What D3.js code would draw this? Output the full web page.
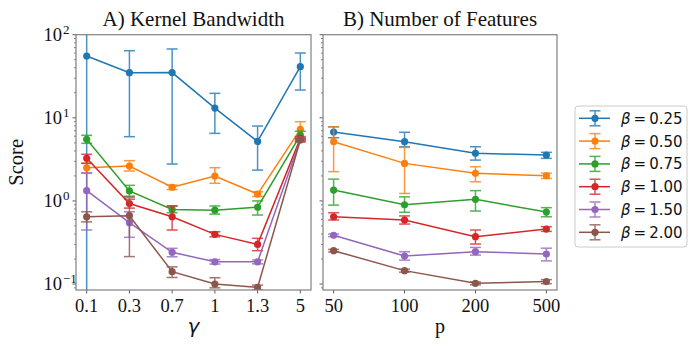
<!DOCTYPE html>
<html>
<head>
<meta charset="utf-8">
<script src="https://cdn.jsdelivr.net/npm/d3@7"></script>
<style>
  body { margin: 0; background: #fff; }
  svg { display: block; }
</style>
</head>
<body>
<div id="chart"></div>
<script>
// series labels and colours
const betas = ["0.25", "0.50", "0.75", "1.00", "1.50", "2.00"];
const colors = ["#1f77b4", "#ff7f0e", "#2ca02c", "#d62728", "#9467bd", "#8c564b"];

// panel A: kernel bandwidth
const gammas = ["0.1", "0.3", "0.7", "1", "1.3", "5"];
const gammaMean = [
    [55.4, 34.9, 35.0, 13.1, 5.2, 41.2],
    [2.5, 2.63, 1.46, 1.99, 1.21, 7.27],
    [5.51, 1.32, 0.79, 0.775, 0.84, 6.2],
    [3.26, 0.93, 0.645, 0.396, 0.30, 5.66],
    [1.33, 0.547, 0.241, 0.185, 0.185, 5.45],
    [0.645, 0.664, 0.141, 0.1, 0.091, 5.4]
];
const gammaLow = [
    [0, 5.93, 2.78, 6.5, 2.35, 21.6],
    [2.15, 2.29, 1.37, 1.63, 1.13, 5.6],
    [4.93, 1.14, 0.72, 0.695, 0.677, 5.5],
    [2.83, 0.82, 0.447, 0.37, 0.252, 5.35],
    [0.447, 0.365, 0.213, 0.174, 0.175, 5.15],
    [0.56, 0.214, 0.12, 0.09, 0.085, 5.15]
];
const gammaHigh = [
    [120, 64.2, 67.3, 19.7, 7.96, 60.2],
    [2.85, 3.05, 1.55, 2.51, 1.29, 8.98],
    [6.16, 1.54, 0.87, 0.87, 1.0, 6.9],
    [3.64, 1.05, 0.87, 0.426, 0.355, 5.95],
    [2.18, 0.74, 0.269, 0.197, 0.195, 5.75],
    [0.74, 1.11, 0.161, 0.119, 0.097, 5.65]
];

// panel B: number of features
const features = ["50", "100", "200", "500"];
const featMean = [
    [6.75, 5.16, 3.74, 3.57],
    [5.16, 2.83, 2.15, 2.01],
    [1.35, 0.90, 1.045, 0.735],
    [0.645, 0.59, 0.371, 0.459],
    [0.386, 0.217, 0.245, 0.23],
    [0.252, 0.145, 0.102, 0.107]
];
const featLow = [
    [5.76, 4.49, 3.1, 3.25],
    [2.25, 1.23, 1.7, 1.86],
    [0.89, 0.73, 0.756, 0.645],
    [0.59, 0.527, 0.303, 0.43],
    [0.372, 0.194, 0.223, 0.19],
    [0.243, 0.139, 0.098, 0.101]
];
const featHigh = [
    [7.8, 6.7, 4.49, 3.84],
    [7.8, 4.4, 2.58, 2.16],
    [1.83, 1.12, 1.33, 0.83],
    [0.72, 0.66, 0.447, 0.49],
    [0.40, 0.245, 0.276, 0.27],
    [0.261, 0.151, 0.106, 0.113]
];

const yTicks = [0.1, 1, 10, 100];
const yExp = ["\u22121", "0", "1", "2"];

const width = 698, height = 349;
const plotTop = 34.7, plotBottom = 290;
const serif = "'Liberation Serif', 'Times New Roman', serif";
const sans = "'DejaVu Sans', sans-serif";

const svg = d3.select("#chart").append("svg")
    .attr("width", width).attr("height", height);

const y = d3.scaleLog()
    .domain([0.0848, 100])
    .range([plotBottom, plotTop]);

function drawPanel(opts) {
    const x = d3.scalePoint()
        .domain(opts.cats)
        .range([opts.left, opts.right])
        .padding(opts.pad);

    const g = svg.append("g");

    g.append("clipPath").attr("id", opts.id)
        .append("rect")
        .attr("x", opts.left).attr("y", plotTop)
        .attr("width", opts.right - opts.left).attr("height", plotBottom - plotTop);

    const plot = g.append("g").attr("clip-path", `url(#${opts.id})`);

    opts.mean.forEach((row, i) => {
        const pts = row.map((v, j) => ({
            x: x(opts.cats[j]),
            m: v,
            lo: opts.low[i][j],
            hi: opts.high[i][j]
        }));
        const s = plot.append("g");
        const col = colors[i];

        // error bars
        const eb = s.append("g").attr("stroke", col).attr("stroke-width", 1.5).attr("opacity", 0.8);
        pts.forEach(p => {
            const yLo = p.lo > 0 ? y(p.lo) : plotBottom + 20;
            const yHi = y(p.hi);
            eb.append("line").attr("x1", p.x).attr("x2", p.x).attr("y1", yLo).attr("y2", yHi);
            if (p.lo > 0) eb.append("line").attr("x1", p.x - 5.5).attr("x2", p.x + 5.5).attr("y1", yLo).attr("y2", yLo);
            eb.append("line").attr("x1", p.x - 5.5).attr("x2", p.x + 5.5).attr("y1", yHi).attr("y2", yHi);
        });

        s.append("path")
            .datum(pts)
            .attr("fill", "none")
            .attr("stroke", col)
            .attr("stroke-width", 1.5)
            .attr("d", d3.line().x(d => d.x).y(d => y(d.m)));

        s.selectAll("circle")
            .data(pts)
            .enter().append("circle")
            .attr("cx", d => d.x)
            .attr("cy", d => y(d.m))
            .attr("r", 3.6)
            .attr("fill", col);
    });

    // minor ticks on y
    const minor = [];
    for (let e = -2; e <= 1; e++) {
        for (let k = 2; k <= 9; k++) {
            const v = k * Math.pow(10, e);
            if (v >= y.domain()[0] && v <= 100) minor.push(v);
        }
    }
    g.selectAll("line.minor")
        .data(minor)
        .enter().append("line")
        .attr("x1", opts.left - 2).attr("x2", opts.left)
        .attr("y1", d => y(d)).attr("y2", d => y(d))
        .attr("stroke", "#333").attr("stroke-width", 0.6);

    g.selectAll("line.major")
        .data(yTicks)
        .enter().append("line")
        .attr("x1", opts.left - 3.5).attr("x2", opts.left)
        .attr("y1", d => y(d)).attr("y2", d => y(d))
        .attr("stroke", "#333").attr("stroke-width", 0.8);

    if (opts.yLabels) {
        yTicks.forEach((t, i) => {
            const txt = g.append("text")
                .attr("x", opts.left - 14)
                .attr("y", y(t) + 6)
                .attr("text-anchor", "end")
                .attr("font-family", serif)
                .attr("font-size", 18.5)
                .attr("fill", "#111");
            txt.append("tspan").text("10");
            txt.append("tspan")
                .attr("x", opts.left - 14 + 1)
                .attr("dy", -7)
                .attr("text-anchor", "start")
                .attr("font-size", 13)
                .text(yExp[i]);
        });
        svg.append("text")
            .attr("transform", `translate(23,${(plotTop + plotBottom) / 2}) rotate(-90)`)
            .attr("text-anchor", "middle")
            .attr("font-family", serif)
            .attr("font-size", 20.5)
            .attr("fill", "#111")
            .text("Score");
    }

    // x ticks
    g.selectAll("line.xt")
        .data(opts.cats)
        .enter().append("line")
        .attr("x1", d => x(d)).attr("x2", d => x(d))
        .attr("y1", plotBottom).attr("y2", plotBottom + 3.5)
        .attr("stroke", "#333").attr("stroke-width", 0.8);

    g.selectAll("text.xt")
        .data(opts.cats)
        .enter().append("text")
        .attr("x", d => x(d))
        .attr("y", 311.5)
        .attr("text-anchor", "middle")
        .attr("font-family", serif)
        .attr("font-size", 18.5)
        .attr("fill", "#111")
        .text(d => d);

    // frame
    g.append("rect")
        .attr("x", opts.left).attr("y", plotTop)
        .attr("width", opts.right - opts.left).attr("height", plotBottom - plotTop)
        .attr("fill", "none")
        .attr("stroke", "#808080")
        .attr("stroke-width", 1.2);

    g.append("text")
        .attr("x", (opts.left + opts.right) / 2)
        .attr("y", 26)
        .attr("text-anchor", "middle")
        .attr("font-family", serif)
        .attr("font-size", 21)
        .attr("fill", "#111")
        .text(opts.title);

    const xl = g.append("text")
        .attr("x", (opts.left + opts.right) / 2)
        .attr("y", 333)
        .attr("text-anchor", "middle")
        .attr("fill", "#111")
        .attr("font-size", 20)
        .text(opts.xlabel);
    if (opts.xlabelItalic) xl.attr("font-family", sans).attr("font-style", "italic");
    else xl.attr("font-family", serif);
}

drawPanel({
    id: "clipA", cats: gammas, left: 76, right: 311, pad: 0.25,
    mean: gammaMean, low: gammaLow, high: gammaHigh,
    yLabels: true, title: "A) Kernel Bandwidth", xlabel: "\u03b3", xlabelItalic: true
});
drawPanel({
    id: "clipB", cats: features, left: 323, right: 557, pad: 0.15,
    mean: featMean, low: featLow, high: featHigh,
    yLabels: false, title: "B) Number of Features", xlabel: "p", xlabelItalic: false
});

// legend
const legend = svg.append("g").attr("transform", "translate(575,106)");
legend.append("rect")
    .attr("x", 0).attr("y", 0)
    .attr("width", 112).attr("height", 141)
    .attr("rx", 3)
    .attr("fill", "#fff")
    .attr("stroke", "#ccc")
    .attr("stroke-width", 1);

betas.forEach((b, i) => {
    const cy = 12.3 + i * 22.8;
    const row = legend.append("g").attr("transform", `translate(0,${cy})`);
    const col = colors[i];
    row.append("line").attr("x1", 4).attr("x2", 35).attr("y1", 0).attr("y2", 0)
        .attr("stroke", col).attr("stroke-width", 1.5);
    const eb = row.append("g").attr("stroke", col).attr("stroke-width", 1.5).attr("opacity", 0.8);
    eb.append("line").attr("x1", 20).attr("x2", 20).attr("y1", -7.5).attr("y2", 7.5);
    eb.append("line").attr("x1", 14.5).attr("x2", 25.5).attr("y1", -7.5).attr("y2", -7.5);
    eb.append("line").attr("x1", 14.5).attr("x2", 25.5).attr("y1", 7.5).attr("y2", 7.5);
    row.append("circle").attr("cx", 20).attr("cy", 0).attr("r", 3.6).attr("fill", col);
    const t = row.append("text")
        .attr("x", 46).attr("y", 5.5)
        .attr("font-family", sans)
        .attr("font-size", 15)
        .attr("fill", "#111");
    t.append("tspan").attr("font-style", "italic").text("\u03b2");
    t.append("tspan").text("\u2009=\u2009" + b);
});
</script>
</body>
</html>
